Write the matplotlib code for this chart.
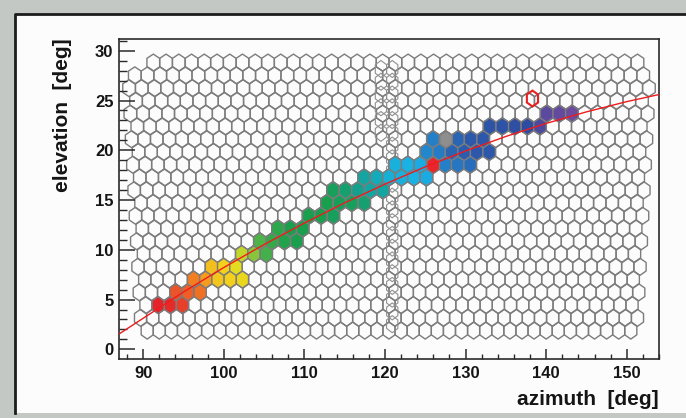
import numpy as np
import matplotlib.pyplot as plt
from matplotlib.collections import PolyCollection
from matplotlib.colors import LinearSegmentedColormap
from matplotlib.patches import Rectangle, RegularPolygon
from matplotlib.ticker import MultipleLocator

plt.rcParams['font.family'] = ['Liberation Sans', 'DejaVu Sans']

# camera pixel layout (degrees)
n_rows = 22
row_el0 = 1.886
row_step = 1.282
pix_step = 1.5
az_center = 120.5
stretch = 0.002
even_cols = range(-20, 21)
odd_cols = range(-21, 21)
top_cols = range(-19, 20)
# misaligned pixels where the two camera halves overlap
seam_az = [120.9, 119.5]
seam_rows = [range(0, 21), range(15, 21)]

# hit pixels: row, column, relative arrival time (0 = first)
hit_row = [2, 2, 2,
           3, 3, 3,
           4, 4, 4, 4, 4,
           5, 5, 5,
           6, 6, 6,
           7, 7, 7, 7,
           8, 8, 8,
           9, 9, 9,
           10, 10, 10, 10,
           11, 11, 11, 11, 11,
           12, 12, 12, 12, 12, 12,
           13, 13, 13, 13, 13, 13,
           14, 14, 14, 14, 14, 14,
           15, 15, 15, 15,
           16, 16, 16, 16, 16,
           17, 17, 17]
hit_col = [-19, -18, -17,
           -18, -17, -16,
           -16, -15, -14, -13, -12,
           -15, -14, -13,
           -12, -11, -10,
           -11, -10, -9, -8,
           -9, -8, -7,
           -7, -6, -5,
           -5, -4, -3, -2,
           -5, -4, -3, -2, -1,
           -2, -1, 0, 1, 2, 3,
           0, 1, 2, 4, 5, 6,
           3, 4, 5, 6, 7, 8,
           3, 5, 6, 7,
           8, 9, 10, 11, 12,
           12, 13, 14]
hit_time = [0.00, 0.02, 0.07,
            0.11, 0.13, 0.16,
            0.18, 0.23, 0.28, 0.29, 0.31,
            0.27, 0.29, 0.33,
            0.36, 0.40, 0.45,
            0.44, 0.47, 0.49, 0.50,
            0.48, 0.50, 0.50,
            0.50, 0.50, 0.51,
            0.50, 0.51, 0.51, 0.52,
            0.51, 0.52, 0.54, 0.56, 0.56,
            0.56, 0.58, 0.61, 0.62, 0.63, 0.64,
            0.62, 0.63, 0.64, 0.70, 0.72, 0.74,
            0.69, 0.71, 0.76, 0.78, 0.80, 0.80,
            0.70, 0.76, 0.79, 0.80,
            0.81, 0.82, 0.83, 0.84, 0.92,
            0.95, 0.97, 0.99]

# special pixels
peak_pixel = (13, 3)
dead_pixel = (15, 4)
source_az, source_el = 138.3, 25.2

# fitted shower axis, sampled
axis_az = [87, 95, 100, 105, 110, 115, 120, 125, 130, 135, 140, 145, 150, 154]
axis_el = [1.54, 5.76, 8.22, 10.53, 12.69, 14.72, 16.6, 18.34, 19.93, 21.39,
           22.70, 23.86, 24.89, 25.6]

palette = LinearSegmentedColormap.from_list('arrival', [
    (0.00, '#e4232a'), (0.10, '#ea4d2a'), (0.18, '#f27e22'), (0.24, '#f5a320'),
    (0.29, '#f2d01c'), (0.34, '#e0e020'), (0.38, '#a8cc38'), (0.44, '#4cb448'),
    (0.50, '#1a9f4c'), (0.54, '#14a08c'), (0.58, '#14aab8'), (0.63, '#1ab2e6'),
    (0.70, '#2480c8'), (0.78, '#2c5cae'), (0.86, '#31489c'), (1.00, '#704b9e')])

line_gray = '#7c7c7c'


def cell_center(r, k):
    el = row_el0 + row_step * r
    scale = 1 + stretch * (el - row_el0)
    az = az_center + (k + 0.5 * (r % 2)) * pix_step * scale
    return az, el, scale


def hexagon_at(az, el, half_w):
    half_h = row_step / 1.5
    dx = np.array([0, half_w, half_w, 0, -half_w, -half_w])
    dy = np.array([half_h, half_h / 2, -half_h / 2, -half_h, -half_h / 2, half_h / 2])
    return np.column_stack([az + dx, el + dy])


def hexagon(r, k):
    az, el, scale = cell_center(r, k)
    return hexagon_at(az, el, pix_step / 2 * scale)


fig = plt.figure(figsize=(6.86, 4.18), dpi=100)
fig.patch.set_facecolor('#c3c8c5')
fig.patches.append(Rectangle((15 / 686, 5 / 418), 1, 399 / 418, transform=fig.transFigure,
                             facecolor='#fcfcfc', edgecolor='none', zorder=-5))
fig.lines.append(plt.Line2D([15 / 686, 15 / 686, 1], [5 / 418, 404 / 418, 404 / 418],
                            transform=fig.transFigure, color='#1c1c1c', lw=2, zorder=-4))

ax = fig.add_axes([119 / 686, 59 / 418, 540 / 686, 319.7 / 418])
ax.set_facecolor('#fcfcfc')

# full camera outline
cells = []
for r in range(n_rows):
    cols = top_cols if r == n_rows - 1 else (odd_cols if r % 2 else even_cols)
    for k in cols:
        cells.append(hexagon(r, k))
ax.add_collection(PolyCollection(cells, facecolors='none', edgecolors=line_gray,
                                 linewidths=1.0, zorder=1))

seam = []
for az, rows in zip(seam_az, seam_rows):
    for r in rows:
        seam.append(hexagon_at(az, row_el0 + row_step * (r + 0.5), 0.7))
ax.add_collection(PolyCollection(seam, facecolors='none', edgecolors='#909090',
                                 linewidths=0.8, zorder=1))

hits = [hexagon(r, k) for r, k in zip(hit_row, hit_col)]
ax.add_collection(PolyCollection(hits, facecolors=palette(np.array(hit_time)),
                                 edgecolors=line_gray, linewidths=1.0, zorder=2))
ax.add_collection(PolyCollection([hexagon(*peak_pixel)], facecolors='#e8262c',
                                 edgecolors=line_gray, linewidths=1.0, zorder=2))
ax.add_collection(PolyCollection([hexagon(*dead_pixel)], facecolors='#8e8e8e',
                                 edgecolors=line_gray, linewidths=1.0, zorder=2))

ax.add_patch(RegularPolygon((source_az, source_el), 6, radius=0.8, facecolor='none',
                            edgecolor='#e82020', lw=1.5, zorder=4))
ax.plot(axis_az, axis_el, color='#ee1c1c', lw=1.0, zorder=3)

ax.set_xlim(87, 154)
ax.set_ylim(-0.97, 31.15)
ax.xaxis.set_major_locator(MultipleLocator(10))
ax.xaxis.set_minor_locator(MultipleLocator(2))
ax.yaxis.set_major_locator(MultipleLocator(5))
ax.yaxis.set_minor_locator(MultipleLocator(1))
ax.tick_params(axis='x', which='major', direction='in', length=7.5, width=1.1, pad=5)
ax.tick_params(axis='x', which='minor', direction='in', length=3.8, width=1.0)
ax.tick_params(axis='y', which='major', direction='in', length=11.5, width=1.1, pad=4)
ax.tick_params(axis='y', which='minor', direction='in', length=5.8, width=1.0)
ax.tick_params(which='both', color='#2a2a2a', labelsize=12, labelcolor='#151515')
for lab in ax.get_xticklabels() + ax.get_yticklabels():
    lab.set_fontweight('bold')
for sp in ax.spines.values():
    sp.set_color('#2a2a2a')
    sp.set_linewidth(1.2)

ax.text(1.0, -0.128, 'azimuth  [deg]', transform=ax.transAxes, ha='right', va='center',
        fontsize=15, fontweight='bold', color='#151515')
ax.text(-0.105, 1.003, 'elevation  [deg]', transform=ax.transAxes, ha='center', va='top',
        rotation=90, fontsize=15, fontweight='bold', color='#151515')

fig.savefig('out.png', dpi=100, facecolor=fig.get_facecolor())
